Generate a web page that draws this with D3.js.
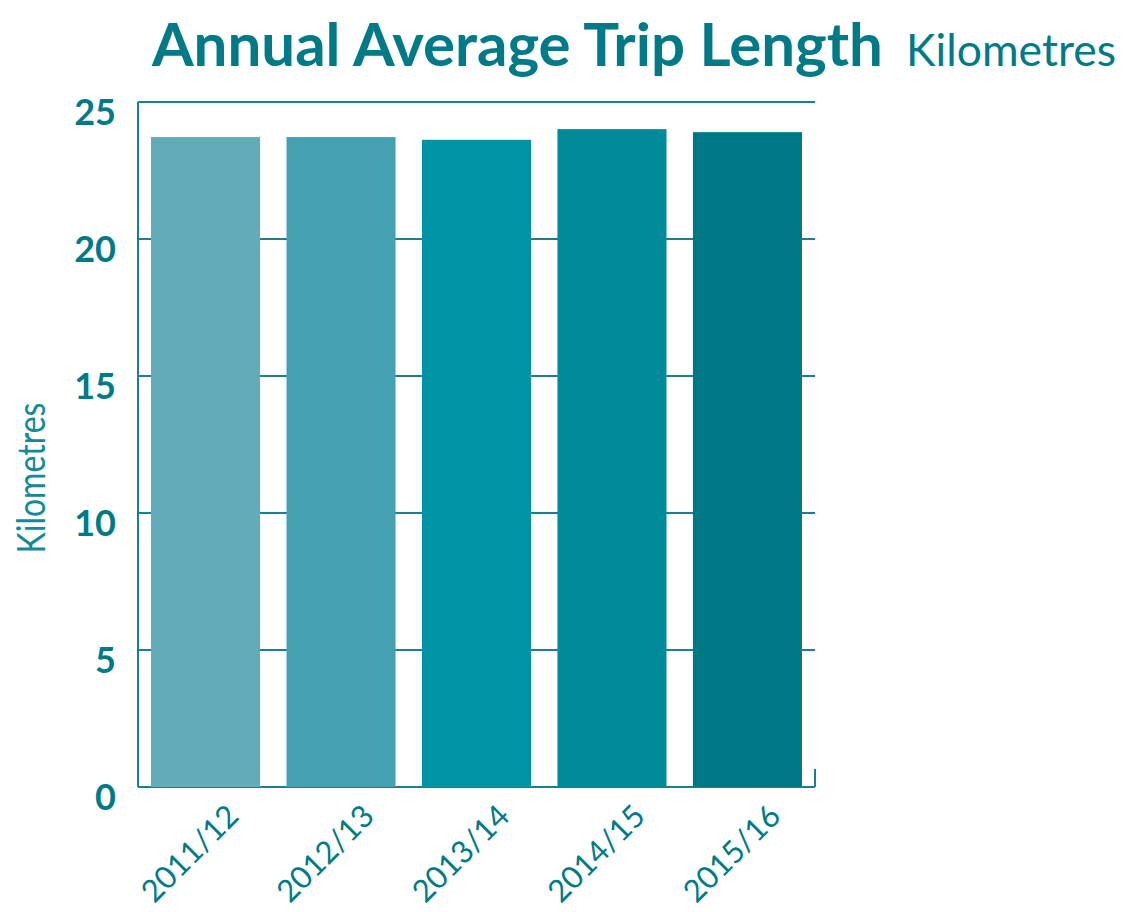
<!DOCTYPE html>
<html>
<head>
<meta charset="utf-8">
<script src="https://cdn.jsdelivr.net/npm/d3@7"></script>
<style>
  body { margin: 0; background: #fff; }
  text { font-family: Lato, "Open Sans", sans-serif; }
</style>
</head>
<body>
<svg width="1127" height="912"></svg>
<script>
var years = ['2011/12', '2012/13', '2013/14', '2014/15', '2015/16'];
var tripLength = [23.72, 23.72, 23.62, 24.01, 23.9];
var barColors = ['#63abb9', '#44a1b2', '#0093a6', '#008a9a', '#007785'];
var yTicks = [0, 5, 10, 15, 20, 25];

var svg = d3.select('svg');
var textColor = '#007a87';
var lineColor = '#1b7f8c';

var padding = {t: 102, r: 312, b: 125, l: 138};
var chartWidth = +svg.attr('width') - padding.l - padding.r;
var chartHeight = +svg.attr('height') - padding.t - padding.b;

var chartG = svg.append('g')
    .attr('transform', 'translate(' + [padding.l, padding.t] + ')');

var xScale = d3.scaleBand()
    .domain(years)
    .range([0, chartWidth])
    .paddingInner(0.195)
    .paddingOuter(0.096);

var yScale = d3.scaleLinear()
    .domain([0, 25])
    .range([chartHeight, 0]);

// gridlines behind the bars
chartG.selectAll('.grid')
    .data(yTicks)
    .enter()
    .append('line')
    .attr('class', 'grid')
    .attr('x1', 0)
    .attr('x2', chartWidth)
    .attr('y1', function(d) { return yScale(d); })
    .attr('y2', function(d) { return yScale(d); })
    .attr('stroke', lineColor)
    .attr('stroke-width', 2);

chartG.selectAll('rect')
    .data(tripLength)
    .enter()
    .append('rect')
    .attr('x', function(d, i) { return xScale(years[i]); })
    .attr('width', xScale.bandwidth())
    .attr('y', function(d) { return yScale(d); })
    .attr('height', function(d) { return chartHeight - yScale(d); })
    .attr('fill', function(d, i) { return barColors[i]; });

// left axis line and small right stub
chartG.append('line')
    .attr('x1', 0).attr('x2', 0)
    .attr('y1', yScale(25)).attr('y2', yScale(0))
    .attr('stroke', lineColor)
    .attr('stroke-width', 2);

chartG.append('line')
    .attr('x1', chartWidth).attr('x2', chartWidth)
    .attr('y1', yScale(0) - 18).attr('y2', yScale(0))
    .attr('stroke', lineColor)
    .attr('stroke-width', 2);

// y tick labels
var yAxis = d3.axisLeft(yScale)
    .tickValues(yTicks)
    .tickSize(0)
    .tickPadding(22);

chartG.append('g')
    .attr('class', 'y-axis')
    .call(yAxis)
    .call(function(g) { g.select('.domain').remove(); })
    .selectAll('text')
    .attr('dy', '0.68em')
    .attr('y', -2)
    .style('font-size', '36px')
    .style('font-weight', 'bold')
    .style('font-family', 'Lato, sans-serif')
    .attr('fill', textColor);

// x labels rotated
var xAxis = d3.axisBottom(xScale).tickSize(0).tickPadding(0);

chartG.append('g')
    .attr('class', 'x-axis')
    .attr('transform', 'translate(0,' + chartHeight + ')')
    .call(xAxis)
    .call(function(g) { g.select('.domain').remove(); })
    .selectAll('text')
    .attr('x', 0)
    .attr('y', 0)
    .attr('dy', 0)
    .attr('text-anchor', 'end')
    .attr('transform', 'translate(35,31) rotate(-45)')
    .style('font-size', '31px')
    .style('font-family', 'Lato, sans-serif')
    .attr('fill', textColor);

// y title
svg.append('text')
    .attr('class', 'y-label')
    .attr('transform', 'translate(45, 478) rotate(-90)')
    .attr('text-anchor', 'middle')
    .attr('textLength', 151)
    .attr('lengthAdjust', 'spacingAndGlyphs')
    .style('font-size', '38px')
    .style('fill', '#14899a')
    .text('Kilometres');

// title
svg.append('text')
    .attr('x', 152)
    .attr('y', 66)
    .style('fill', textColor)
    .style('font-size', '60px')
    .style('font-weight', 'bold')
    .text('Annual Average Trip Length');

svg.append('text')
    .attr('x', 906)
    .attr('y', 66)
    .attr('textLength', 210)
    .attr('lengthAdjust', 'spacingAndGlyphs')
    .style('fill', textColor)
    .style('font-size', '45px')
    .text('Kilometres');
</script>
</body>
</html>
